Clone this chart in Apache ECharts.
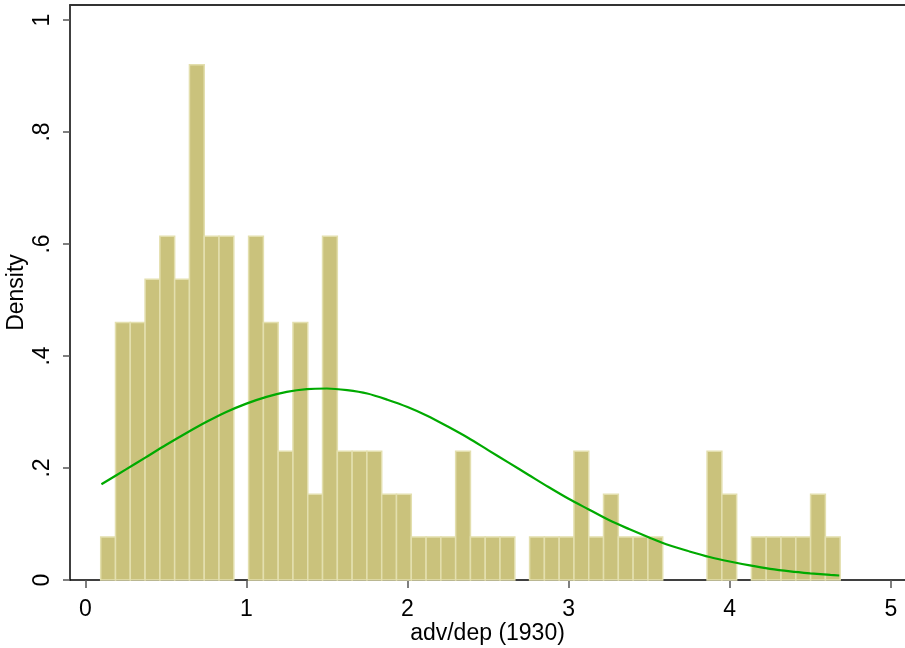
<!DOCTYPE html>
<html>
<head>
<meta charset="utf-8">
<script src="https://cdn.jsdelivr.net/npm/echarts@6/dist/echarts.min.js"></script>
<style>
html, body { margin: 0; padding: 0; background: #fff; }
#chart { width: 905px; height: 648px; }
</style>
</head>
<body>
<div id="chart"></div>
<script>
// histogram: left edge of first bin and bin width, in adv/dep units
var binStart = 0.0956;
var binWidth = 0.0918;
// density of each of the 50 bins
var density = [
    0.077, 0.46, 0.46, 0.537, 0.614, 0.537, 0.92, 0.614, 0.614, 0,
    0.614, 0.46, 0.23, 0.46, 0.153, 0.614, 0.23, 0.23, 0.23, 0.153,
    0.153, 0.077, 0.077, 0.077, 0.23, 0.077, 0.077, 0.077, 0, 0.077,
    0.077, 0.077, 0.23, 0.077, 0.153, 0.077, 0.077, 0.077, 0, 0,
    0, 0.23, 0.153, 0, 0.077, 0.077, 0.077, 0.077, 0.153, 0.077
];
// normal density overlay
var curveX = [0.1, 0.25, 0.375, 0.5, 0.625, 0.75, 0.875, 1.0, 1.125, 1.25, 1.375,
    1.5, 1.625, 1.75, 1.875, 2.0, 2.125, 2.25, 2.375, 2.5, 2.625, 2.75, 2.875,
    3.0, 3.125, 3.25, 3.375, 3.5, 3.625, 3.75, 3.875, 4.0, 4.125, 4.25, 4.375,
    4.5, 4.625, 4.68];
var curveY = [0.171, 0.197, 0.219, 0.241, 0.262, 0.282, 0.300, 0.315, 0.327, 0.336, 0.341,
    0.342, 0.339, 0.333, 0.322, 0.309, 0.293, 0.274, 0.254, 0.232, 0.210, 0.188, 0.166,
    0.145, 0.126, 0.107, 0.091, 0.076, 0.062, 0.051, 0.041, 0.033, 0.026, 0.020, 0.0155,
    0.012, 0.009, 0.008];
var xTicks = [0, 1, 2, 3, 4, 5];
var yTicks = [0, 0.2, 0.4, 0.6, 0.8, 1];

var barData = [];
for (var i = 0; i < density.length; i++) {
    if (density[i] > 0) {
        var lo = binStart + i * binWidth;
        barData.push([lo, lo + binWidth, density[i]]);
    }
}
var lineData = [];
for (var j = 0; j < curveX.length; j++) {
    lineData.push([curveX[j], curveY[j]]);
}

function renderBar(params, api) {
    var p0 = api.coord([api.value(0), api.value(2)]);
    var p1 = api.coord([api.value(1), 0]);
    return {
        type: 'rect',
        shape: { x: p0[0], y: p0[1], width: p1[0] - p0[0], height: p1[1] - p0[1] },
        style: { fill: '#cac27c', stroke: '#e3dfae', lineWidth: 1.5 }
    };
}

function yFmt(v) {
    if (v === 0) return '0';
    if (v === 1) return '1';
    return String(+v.toFixed(1)).replace('0.', '.');
}

var font = 'Liberation Sans, Arial, Helvetica, sans-serif';
var myChart = echarts.init(document.getElementById('chart'));
var option = {
    backgroundColor: '#ffffff',
    animation: false,
    grid: { left: 70, right: 0, top: 5, bottom: 68, containLabel: false, outerBoundsMode: 'none' },
    xAxis: [{
        type: 'value',
        min: -0.095,
        max: 5.088,
        name: 'adv/dep (1930)',
        nameLocation: 'middle',
        nameGap: 42,
        nameMoveOverlap: false,
        nameTextStyle: { fontSize: 23, fontFamily: font, color: '#000' },
        axisLine: { show: true, onZero: false, lineStyle: { color: '#000', width: 1.5 } },
        axisTick: { show: true, length: 8, customValues: xTicks, lineStyle: { color: '#555', width: 1.5 } },
        axisLabel: { customValues: xTicks, margin: 18, fontSize: 23, fontFamily: font, color: '#000' },
        splitLine: { show: false }
    }, {
        type: 'value',
        position: 'top',
        min: -0.095,
        max: 5.088,
        axisLine: { show: true, onZero: false, lineStyle: { color: '#333', width: 2 } },
        axisTick: { show: false },
        axisLabel: { show: false },
        splitLine: { show: false }
    }],
    yAxis: {
        type: 'value',
        min: 0,
        max: 1.0268,
        name: 'Density',
        nameLocation: 'middle',
        nameRotate: 90,
        nameGap: 42,
        nameMoveOverlap: false,
        nameTextStyle: { fontSize: 23, fontFamily: font, color: '#000' },
        axisLine: { show: true, onZero: false, lineStyle: { color: '#000', width: 1.5 } },
        axisTick: { show: true, length: 7, customValues: yTicks, lineStyle: { color: '#555', width: 1.5 } },
        axisLabel: { customValues: yTicks, rotate: 90, margin: 16, fontSize: 23, fontFamily: font, color: '#000', formatter: yFmt },
        splitLine: { show: false }
    },
    series: [{
        name: 'histogram',
        type: 'custom',
        renderItem: renderBar,
        encode: { x: [0, 1], y: 2 },
        data: barData
    }, {
        name: 'normal',
        type: 'line',
        smooth: 0.3,
        showSymbol: false,
        lineStyle: { color: '#00aa00', width: 2.2 },
        data: lineData
    }]
};
myChart.setOption(option);
</script>
</body>
</html>
